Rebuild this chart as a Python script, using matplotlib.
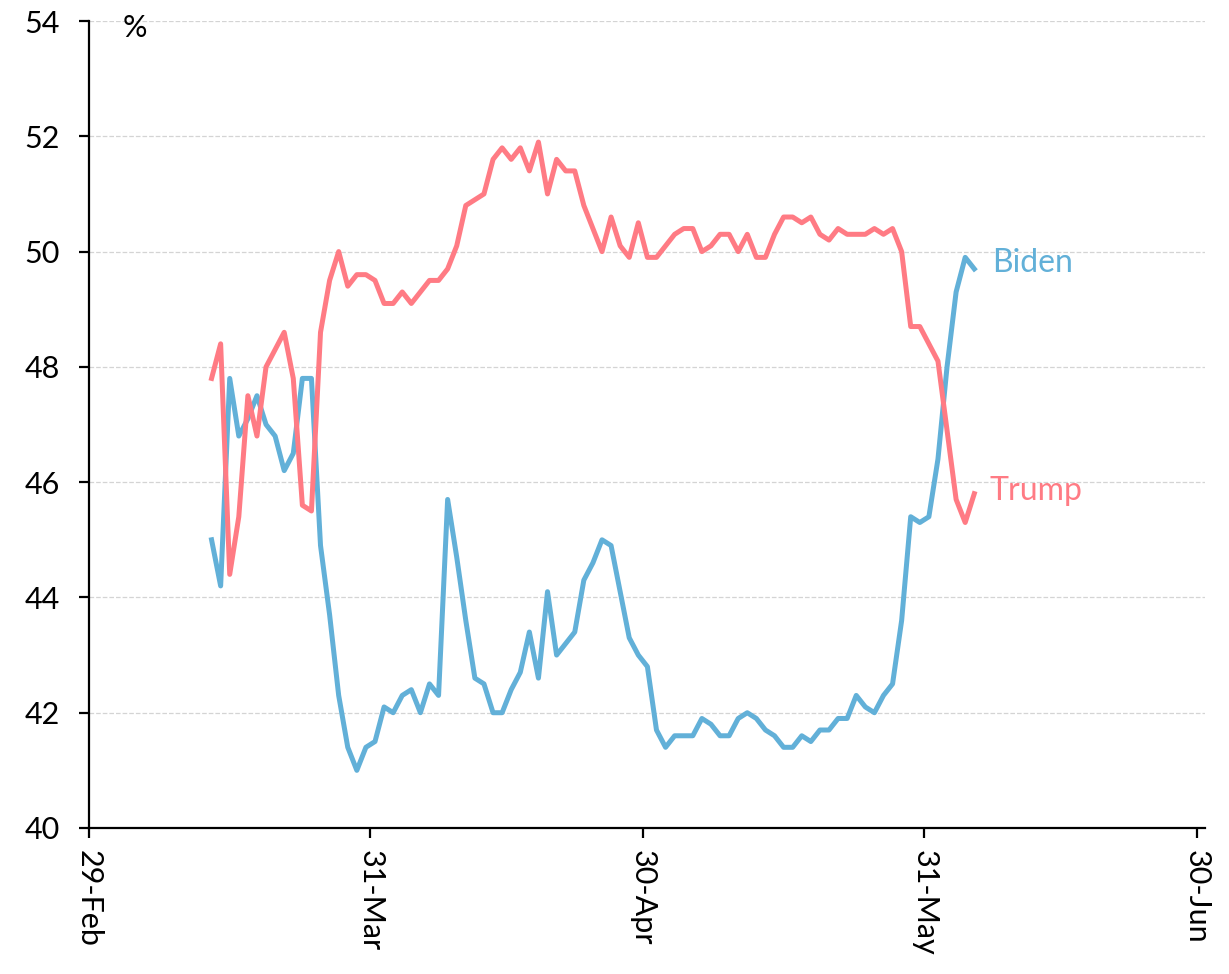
import pandas as pd
import matplotlib
matplotlib.use('Agg')
from matplotlib import pyplot as plt

# daily polling averages, 13-Mar to 5-Jun
start = '2024-03-13 12:00'
trump = [47.8, 48.4, 44.4, 45.4, 47.5, 46.8, 48.0, 48.3, 48.6, 47.8, 45.6, 45.5, 48.6,
         49.5, 50.0, 49.4, 49.6, 49.6, 49.5, 49.1, 49.1, 49.3, 49.1, 49.3, 49.5, 49.5, 49.7, 50.1,
         50.8, 50.9, 51.0, 51.6, 51.8, 51.6, 51.8, 51.4, 51.9, 51.0, 51.6, 51.4, 51.4, 50.8,
         50.4, 50.0, 50.6, 50.1, 49.9, 50.5, 49.9,
         49.9, 50.1, 50.3, 50.4, 50.4, 50.0, 50.1, 50.3, 50.3, 50.0, 50.3, 49.9, 49.9, 50.3,
         50.6, 50.6, 50.5, 50.6, 50.3, 50.2, 50.4, 50.3, 50.3, 50.3, 50.4, 50.3, 50.4, 50.0,
         48.7, 48.7, 48.4, 48.1, 46.9, 45.7, 45.3, 45.8]
biden = [45.0, 44.2, 47.8, 46.8, 47.1, 47.5, 47.0, 46.8, 46.2, 46.5, 47.8, 47.8, 44.9,
         43.7, 42.3, 41.4, 41.0, 41.4, 41.5, 42.1, 42.0, 42.3, 42.4, 42.0, 42.5, 42.3,
         45.7, 44.7, 43.6, 42.6, 42.5, 42.0, 42.0, 42.4, 42.7, 43.4, 42.6, 44.1, 43.0, 43.2,
         43.4, 44.3, 44.6, 45.0, 44.9, 44.1, 43.3, 43.0, 42.8,
         41.7, 41.4, 41.6, 41.6, 41.6, 41.9, 41.8, 41.6, 41.6, 41.9, 42.0, 41.9, 41.7, 41.6,
         41.4, 41.4, 41.6, 41.5, 41.7, 41.7, 41.9, 41.9, 42.3, 42.1, 42.0, 42.3, 42.5, 43.6,
         45.4, 45.3, 45.4, 46.4, 48.0, 49.3, 49.9, 49.7]
dates = pd.date_range(start, periods=len(trump), freq='D')

tick_dates = pd.to_datetime(['2024-02-29', '2024-03-31', '2024-04-30', '2024-05-31', '2024-06-30'])
tick_labels = ['29-Feb', '31-Mar', '30-Apr', '31-May', '30-Jun']

blue = '#62B0D8'
red = '#FF7B84'

plt.rcParams['font.family'] = ['Lato', 'DejaVu Sans']

fig = plt.figure(figsize=(12.29, 9.74), dpi=100)
ax = fig.add_axes([0.0724, 0.1499, 0.908, 0.8285])

ax.plot(dates, biden, color=blue, linewidth=3.6)
ax.plot(dates, trump, color=red, linewidth=3.6)

ax.text(dates[-1] + pd.Timedelta(days=2), biden[-1] + 0.1, 'Biden', color=blue,
        fontsize=23, va='center', ha='left')
ax.text(dates[-1] + pd.Timedelta(days=1.7), trump[-1] + 0.05, 'Trump', color=red,
        fontsize=23, va='center', ha='left')

ax.set_ylim(40, 54)
ax.set_yticks(range(40, 55, 2))
ax.set_xlim(pd.Timestamp('2024-02-29'), pd.Timestamp('2024-02-29') + pd.Timedelta(days=122.9))
ax.set_xticks(tick_dates)
ax.set_xticklabels(tick_labels, rotation=270, va='top', ha='center')

ax.grid(axis='y', color='#d4d4d4', linestyle='--', linewidth=0.9)
ax.set_axisbelow(True)

for s in ['top', 'right']:
    ax.spines[s].set_visible(False)
for s in ['left', 'bottom']:
    ax.spines[s].set_linewidth(1.6)

ax.tick_params(axis='both', direction='out', length=7, width=1.6, labelsize=22)
ax.tick_params(axis='x', pad=9)
ax.tick_params(axis='y', pad=14)

ax.text(0.03, 0.991, '%', transform=ax.transAxes, fontsize=22, va='center', ha='left')

fig.savefig('out.png', dpi=100)
